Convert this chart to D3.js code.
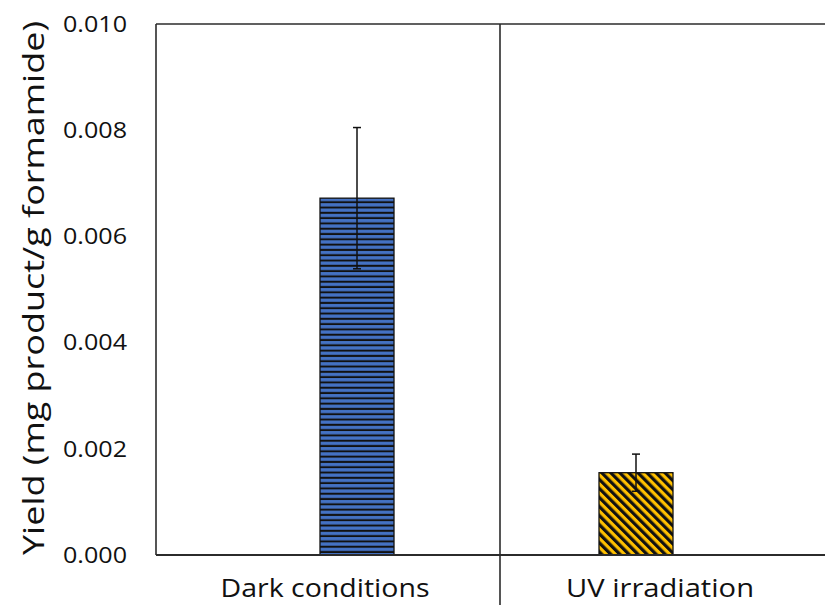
<!DOCTYPE html>
<html>
<head>
<meta charset="utf-8">
<script src="https://cdn.jsdelivr.net/npm/d3@7"></script>
<style>
  body { margin: 0; background: #fff; }
  text { font-family: "Open Sans", sans-serif; fill: #111; }
</style>
</head>
<body>
<div id="chart"></div>
<script>
// chart data
const categories = ["Dark conditions", "UV irradiation"];
const yields = [0.00672, 0.00155];
const errors = [0.00133, 0.00035];
const yTicks = [0, 0.002, 0.004, 0.006, 0.008, 0.010];
const patternIds = ["hstripe", "dstripe"];

const width = 825;
const height = 605;

const svg = d3
  .select("#chart")
  .append("svg")
  .attr("width", width)
  .attr("height", height);

const defs = svg.append("defs");

// horizontal blue / black stripes
const hp = defs
  .append("pattern")
  .attr("id", "hstripe")
  .attr("patternUnits", "userSpaceOnUse")
  .attr("width", 10)
  .attr("height", 5.3);
hp.append("rect").attr("width", 10).attr("height", 5.3).attr("fill", "#111");
hp.append("rect").attr("y", 1.8).attr("width", 10).attr("height", 3.3).attr("fill", "#4472C4");

// diagonal yellow / black stripes
const dp = defs
  .append("pattern")
  .attr("id", "dstripe")
  .attr("patternUnits", "userSpaceOnUse")
  .attr("width", 6.4)
  .attr("height", 10)
  .attr("patternTransform", "rotate(-45)");
dp.append("rect").attr("width", 6.4).attr("height", 10).attr("fill", "#FFC000");
dp.append("rect").attr("width", 3.2).attr("height", 10).attr("fill", "#111");

const y = d3.scaleLinear().domain([0, 0.01]).range([555, 24]);
const frame = d3.scaleBand().domain(categories).range([156, 844]);
const labelX = d3.scalePoint().domain(categories).range([325, 660]);
const barX = d3.scalePoint().domain(categories).range([357, 636]);
const barWidth = 74;

// y axis labels
const yAxis = d3
  .axisLeft(y)
  .tickValues(yTicks)
  .tickFormat(d3.format(".3f"))
  .tickSize(0)
  .tickPadding(29);

const ya = svg.append("g").attr("transform", "translate(156,0)").call(yAxis);
ya.select(".domain").remove();
ya.selectAll("text")
  .attr("font-family", "Open Sans, sans-serif")
  .attr("font-size", 22.5)
  .attr("fill", "#111")
  .attr("textLength", 64)
  .attr("lengthAdjust", "spacingAndGlyphs");

// frame lines
const lineColor = "#2b2b2b";
svg.append("line")
  .attr("x1", 156).attr("x2", width)
  .attr("y1", y(0.01)).attr("y2", y(0.01))
  .attr("stroke", lineColor).attr("stroke-width", 1.6);
svg.append("line")
  .attr("x1", 156).attr("x2", 156)
  .attr("y1", y(0.01)).attr("y2", y(0))
  .attr("stroke", lineColor).attr("stroke-width", 1.6);
svg.append("line")
  .attr("x1", frame(categories[1])).attr("x2", frame(categories[1]))
  .attr("y1", y(0.01)).attr("y2", height)
  .attr("stroke", lineColor).attr("stroke-width", 1.6);

// bars
svg.selectAll("rect.bar")
  .data(categories)
  .enter()
  .append("rect")
  .attr("class", "bar")
  .attr("x", (d) => barX(d) - barWidth / 2)
  .attr("width", barWidth)
  .attr("y", (d, i) => y(yields[i]))
  .attr("height", (d, i) => y(0) - y(yields[i]))
  .attr("fill", (d, i) => `url(#${patternIds[i]})`)
  .attr("stroke", "#111")
  .attr("stroke-width", 1.3);

// x axis line (drawn over bar bottoms)
svg.append("line")
  .attr("x1", 156).attr("x2", width)
  .attr("y1", y(0)).attr("y2", y(0))
  .attr("stroke", lineColor).attr("stroke-width", 1.8);

// error bars
const eb = svg.selectAll("g.err")
  .data(categories)
  .enter()
  .append("g")
  .attr("class", "err")
  .attr("stroke", "#111")
  .attr("stroke-width", 1.5);
eb.append("line")
  .attr("x1", (d) => barX(d)).attr("x2", (d) => barX(d))
  .attr("y1", (d, i) => y(yields[i] - errors[i]))
  .attr("y2", (d, i) => y(yields[i] + errors[i]));
eb.append("line")
  .attr("x1", (d) => barX(d) - 4).attr("x2", (d) => barX(d) + 4)
  .attr("y1", (d, i) => y(yields[i] + errors[i]))
  .attr("y2", (d, i) => y(yields[i] + errors[i]));
eb.append("line")
  .attr("x1", (d) => barX(d) - 4).attr("x2", (d) => barX(d) + 4)
  .attr("y1", (d, i) => y(yields[i] - errors[i]))
  .attr("y2", (d, i) => y(yields[i] - errors[i]));

// category labels
const labelWidths = [209, 188];
svg.selectAll("text.cat")
  .data(categories)
  .enter()
  .append("text")
  .attr("class", "cat")
  .attr("x", (d) => labelX(d))
  .attr("y", 597)
  .attr("text-anchor", "middle")
  .attr("font-size", 25)
  .attr("textLength", (d, i) => labelWidths[i])
  .attr("lengthAdjust", "spacingAndGlyphs")
  .text((d) => d);

// y title
svg.append("text")
  .attr("transform", "translate(44,288) rotate(-90)")
  .attr("text-anchor", "middle")
  .attr("font-size", 30)
  .attr("textLength", 534)
  .attr("lengthAdjust", "spacingAndGlyphs")
  .text("Yield (mg product/g formamide)");
</script>
</body>
</html>
